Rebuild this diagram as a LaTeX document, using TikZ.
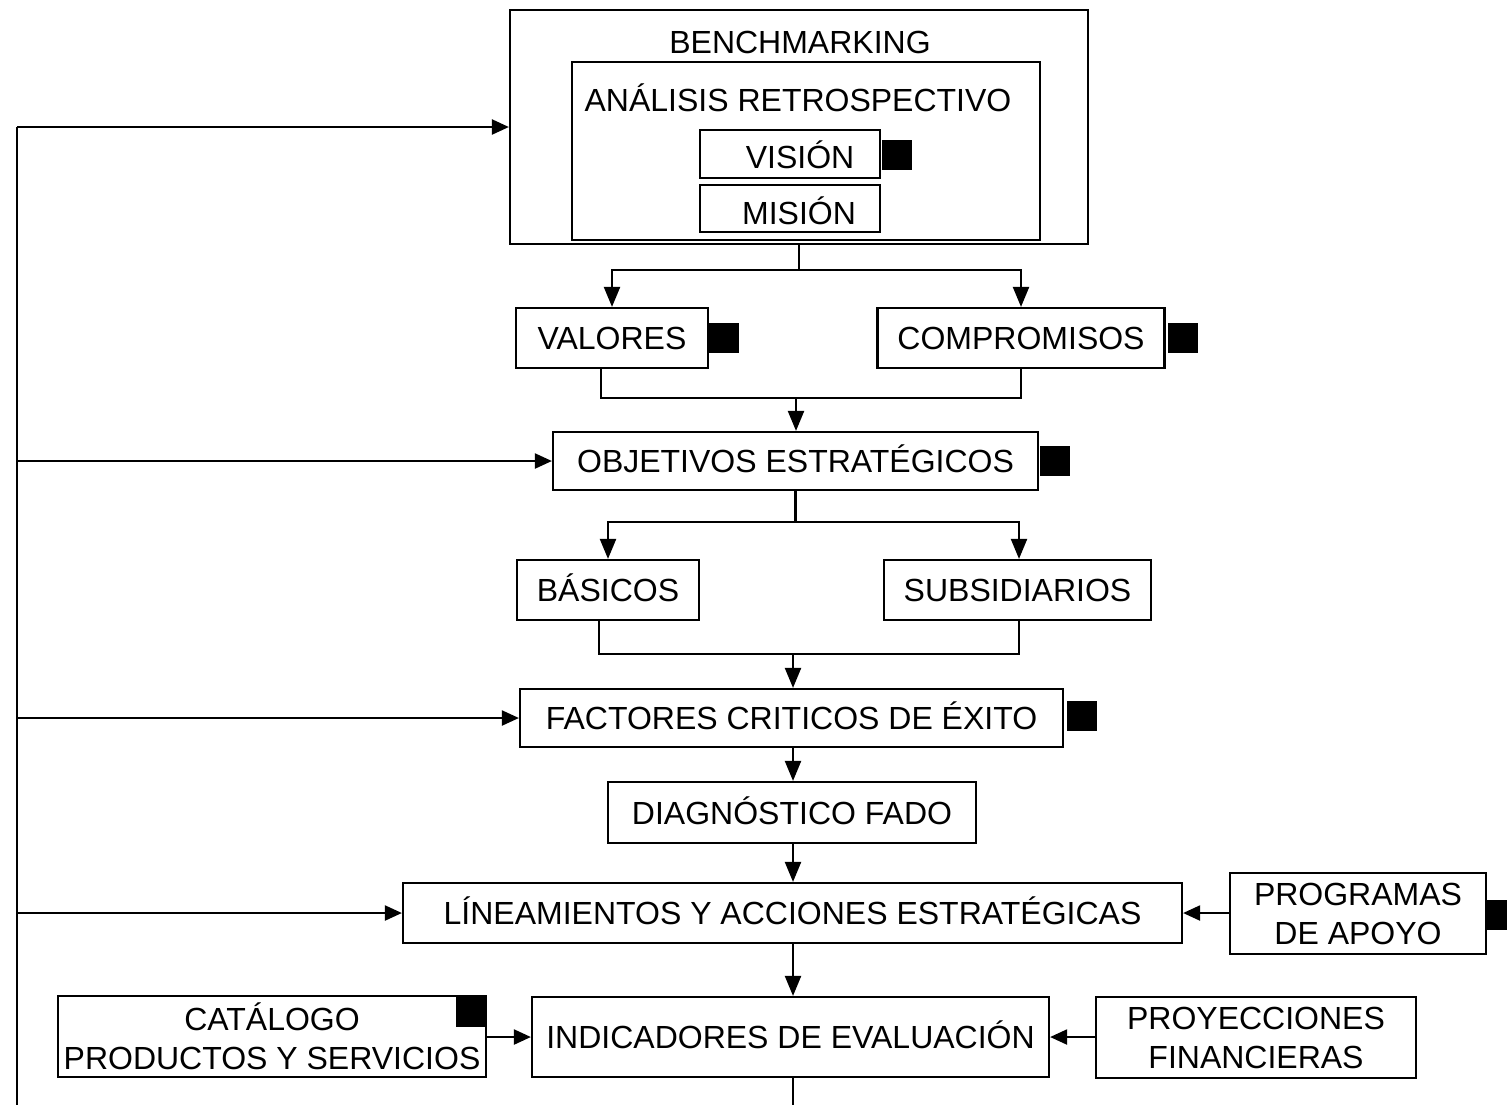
\documentclass[tikz,border=0pt]{standalone}
\usepackage{fontspec}
\setmainfont{Liberation Sans}
\usetikzlibrary{arrows.meta,calc}
\begin{document}
\begin{tikzpicture}[x=0.5pt,y=-0.5pt,
  line width=1.1pt,
  every node/.style={font=\fontsize{16}{19.5}\selectfont},
  box/.style={draw,line width=1.1pt,inner sep=0pt,align=center},
  one/.style={text height=11.5pt,text depth=0pt},
  sq/.style={fill=black,draw=none,inner sep=0pt,minimum width=15pt,minimum height=15pt},
  arr/.style={-{Triangle[length=10pt,width=8pt]}},
  larr/.style={-{Triangle[length=8.5pt,width=7.5pt]}}]
\useasboundingbox (0,0) rectangle (1507,1105);

% boxes
\node[box,minimum width=289pt,minimum height=117pt] (bench) at (799,127) {};
\node[one] (benchtxt) at (800,42) {BENCHMARKING};
\node[box,minimum width=234pt,minimum height=89pt] (retro) at (806,151) {};
\node[one] (retrotxt) at (798,100) {ANÁLISIS RETROSPECTIVO};
\node[box,minimum width=90pt,minimum height=24pt] (vision) at (790,154) {};
\node[one] (visiontxt) at (800,157) {VISIÓN};
\node[box,minimum width=90pt,minimum height=23.5pt] (mision) at (790,208.5) {};
\node[one] (misiontxt) at (799,213) {MISIÓN};

\node[box,one,minimum width=96pt,minimum height=30pt] (valores) at (612,338) {VALORES};
\node[box,one,minimum width=143.5pt,minimum height=30pt] (comp) at (1021,338) {COMPROMISOS};
\node[box,one,minimum width=242.5pt,minimum height=29pt] (obj) at (795.5,461) {OBJETIVOS ESTRATÉGICOS};
\node[box,one,minimum width=91pt,minimum height=30pt] (bas) at (608,590) {BÁSICOS};
\node[box,one,minimum width=133.5pt,minimum height=30pt] (sub) at (1017.5,590) {SUBSIDIARIOS};
\node[box,one,minimum width=271.5pt,minimum height=29pt] (fact) at (791.5,718) {FACTORES CRITICOS DE ÉXITO};
\node[box,one,minimum width=184pt,minimum height=30.5pt] (diag) at (792,812.5) {DIAGNÓSTICO FADO};
\node[box,one,minimum width=389.5pt,minimum height=30pt] (linea) at (792.5,913) {LÍNEAMIENTOS Y ACCIONES ESTRATÉGICAS};
\node[box,minimum width=128pt,minimum height=40.5pt] (prog) at (1358,913.5) {PROGRAMAS\\DE APOYO};
\node[box,one,minimum width=258.5pt,minimum height=40pt] (ind) at (790.5,1037) {INDICADORES DE EVALUACIÓN};
\node[box,minimum width=160pt,minimum height=40.5pt] (proy) at (1256,1037.5) {PROYECCIONES\\FINANCIERAS};
\node[box,minimum width=214pt,minimum height=40.5pt] (cat) at (272,1036.5) {CATÁLOGO\\PRODUCTOS Y SERVICIOS};

% black markers
\node[sq] (sqvision) at (897,155) {};
\node[sq] (sqval) at (724,338) {};
\node[sq] (sqcomp) at (1182.5,338) {};
\node[sq] (sqobj) at (1055,461) {};
\node[sq] (sqfact) at (1081.5,716) {};
\node[sq,minimum width=10pt] (sqprog) at (1497,915) {};
\node[sq] (sqcat) at (470.5,1011.5) {};

% coordinates
\coordinate (s1) at (799,270);
\coordinate (m1) at (796,398);
\coordinate (s2) at (795.5,522);
\coordinate (m2) at (793,654);
\coordinate (bottom) at (790.5,1105);
\coordinate (ltop) at (17,127);
\coordinate (lbot) at (17,1105);
\coordinate (l1) at (17,127);
\coordinate (l2) at (17,461);
\coordinate (l3) at (17,718);
\coordinate (l4) at (17,913);

% connectors
\draw (bench.south) -- (s1);
\draw[arr] (s1) -| (valores.north);
\draw[arr] (s1) -| (comp.north);
\draw ([xshift=-5.5pt]valores.south) |- (m1) -| (comp.south);
\draw[arr] (m1) -- (m1 |- obj.north);
\draw (obj.south) -- (s2);
\draw[arr] (s2) -| (bas.north);
\draw[arr] (s2) -| ([xshift=0.75pt]sub.north);
\draw ([xshift=-4.5pt]bas.south) |- (m2) -| ([xshift=0.75pt]sub.south);
\draw[arr] (m2) -- (m2 |- fact.north);
\draw[arr] (fact.south -| m2) -- (m2 |- diag.north);
\draw[arr] (diag.south -| m2) -- (m2 |- linea.north);
\draw[arr] (linea.south -| m2) -- (m2 |- ind.north);
\draw (ind.south -| m2) -- (bottom -| m2);
\draw[larr] (prog.west |- linea.east) -- (linea.east);
\draw[larr] (proy.west |- ind.east) -- (ind.east);
\draw[larr] (cat.east |- ind.west) -- (ind.west);

\draw (ltop) -- (lbot);
\draw[larr] (l1) -- (bench.west);
\draw[larr] (l2) -- (obj.west);
\draw[larr] (l3) -- (fact.west);
\draw[larr] (l4) -- (linea.west);
\end{tikzpicture}
\end{document}
